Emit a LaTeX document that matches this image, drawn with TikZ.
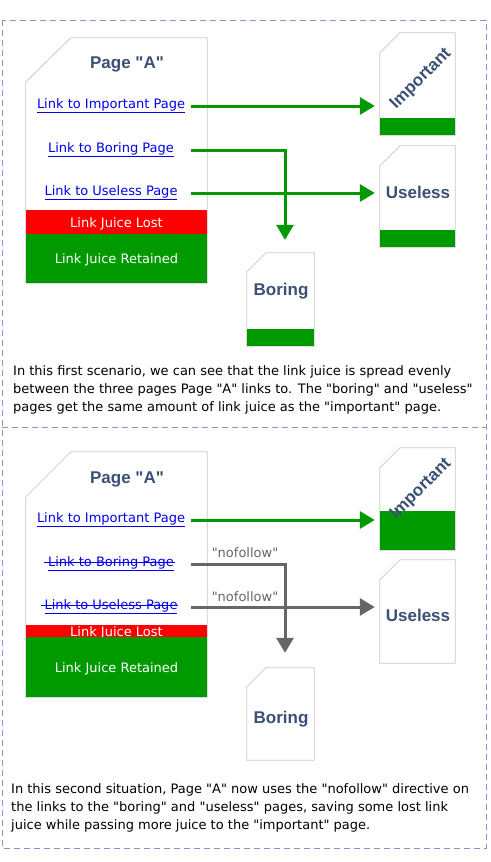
\documentclass[tikz,border=0pt]{standalone}
\usepackage{fontspec}
\newfontfamily\bodyfont{DejaVu Sans}
\newfontfamily\headfont{Liberation Sans}
\usepackage{tikz}
\usetikzlibrary{arrows.meta}
\definecolor{juicegreen}{HTML}{009900}
\definecolor{juicered}{HTML}{FF0000}
\definecolor{linkblue}{HTML}{0000EE}
\definecolor{titleblue}{HTML}{3B5077}
\definecolor{framegray}{HTML}{C8C8C8}
\definecolor{dashblue}{HTML}{8C8CD0}
\definecolor{nofollowgray}{HTML}{666666}
\newcommand{\struck}[1]{\sbox0{#1}\rlap{\underline{#1}}\kern-4pt\rule[0.3em]{\dimexpr\wd0+5pt\relax}{0.6pt}\kern-1pt}
% page outline with a cut top-left corner
\newcommand{\pageoutline}[3]{\draw[page-line] ([xshift=#2]#1.north west) -- (#1.north east) -- (#1.south east) -- (#1.south west) -- ([yshift=-#3]#1.north west) -- cycle;}
\tikzset{
    page-box/.style = {draw=none, rectangle, inner sep=0pt},
    page-line/.style = {draw=framegray, fill=white, line width=0.8pt},
    page-title/.style = {text=titleblue, font=\headfont\bfseries\fontsize{17}{20}\selectfont},
    link-text/.style = {text=linkblue, font=\bodyfont\fontsize{13}{15}\selectfont, minimum width=160pt, inner sep=0pt},
    band-text/.style = {text=white, font=\bodyfont\fontsize{13}{15}\selectfont, inner sep=0pt, minimum width=181pt, text height=11pt, text depth=0.5pt},
    story/.style = {anchor=north west, inner sep=0pt, align=left, font=\bodyfont\fontsize{13}{18}\selectfont},
    juice/.style = {draw=juicegreen, line width=3pt, -{Triangle[length=15pt,width=17pt]}},
    nofollow/.style = {draw=nofollowgray, line width=3pt, -{Triangle[length=15pt,width=17pt]}},
    nofollow-label/.style = {text=nofollowgray, font=\bodyfont\fontsize{13}{15}\selectfont, inner sep=0pt},
}

\begin{document}
\begin{tikzpicture}[x=1pt,y=-1pt]
\useasboundingbox (0,0) rectangle (490,862);
% frames
\draw[dashblue, dash pattern=on 6pt off 4pt] (2,20) rectangle (486,848);
\draw[dashblue, dash pattern=on 6pt off 4pt] (2,427) -- (486,427);

% first scenario
\node[page-box, minimum width=181pt, minimum height=245pt] (pageT) at (116.5,160.5) {};
\node[page-box, minimum width=75pt, minimum height=102pt] (impT) at (417.5,84) {};
\node[page-box, minimum width=75pt, minimum height=101pt] (useT) at (417.5,196.5) {};
\node[page-box, minimum width=67pt, minimum height=93pt] (borT) at (280.5,299.5) {};
\pageoutline{pageT}{45pt}{44pt}
\pageoutline{impT}{20pt}{20pt}
\pageoutline{useT}{20pt}{20pt}
\pageoutline{borT}{19pt}{19pt}
\fill[juicegreen] (impT.south west) rectangle ([yshift=17pt]impT.south east);
\fill[juicegreen] (useT.south west) rectangle ([yshift=17pt]useT.south east);
\fill[juicegreen] (borT.south west) rectangle ([yshift=17pt]borT.south east);

\node[page-title] (titleT) at (127,64) {Page "A"};
\node[page-title, rotate=45] (impTitleT) at (421,79) {Important};
\node[page-title] (useTitleT) at (418,192) {Useless};
\node[page-title] (borTitleT) at (281,291) {Boring};

\node[link-text] (iLinkT) at (111,106) {\underline{Link to Important Page}};
\node[link-text] (bLinkT) at (111,150) {\underline{Link to Boring Page}};
\node[link-text] (uLinkT) at (111,193) {\underline{Link to Useless Page}};

\node[band-text, fill=juicered, minimum height=24pt] (lostT) at (116.5,222) {Link Juice Lost};
\node[band-text, fill=juicegreen, minimum height=49pt] (keptT) at (116.5,258.5) {Link Juice Retained};

\draw[juice, shorten >=5pt] (iLinkT.east) -- (iLinkT.east -| impT.west);
\draw[juice, shorten >=13pt] (bLinkT.east) -| ([xshift=4.5pt]borT.north);
\draw[juice, shorten >=5pt] (uLinkT.east) -- (uLinkT.east -| useT.west);

\node[story] (storyT) at (13,365) {In this first scenario, we can see that the link juice is spread evenly\\
between the three pages Page "A" links to. The "boring" and "useless"\\
pages get the same amount of link juice as the "important" page.};

% second scenario
\node[page-box, minimum width=181pt, minimum height=245pt] (pageB) at (116.5,574.5) {};
\node[page-box, minimum width=75pt, minimum height=102pt] (impB) at (417.5,499) {};
\node[page-box, minimum width=75pt, minimum height=103pt] (useB) at (417.5,611.5) {};
\node[page-box, minimum width=67pt, minimum height=92pt] (borB) at (280.5,714) {};
\pageoutline{pageB}{45pt}{45pt}
\pageoutline{impB}{20pt}{20pt}
\pageoutline{useB}{20pt}{20pt}
\pageoutline{borB}{19pt}{19pt}
\fill[juicegreen] (impB.south west) rectangle ([yshift=39pt]impB.south east);

\node[page-title] (titleB) at (127,479) {Page "A"};
\node[page-title, rotate=45] (impTitleB) at (421,489) {Important};
\node[page-title] (useTitleB) at (418,615) {Useless};
\node[page-title] (borTitleB) at (281,719) {Boring};

\node[link-text] (iLinkB) at (111,520) {\underline{Link to Important Page}};
\node[link-text] (bLinkB) at (111,564) {\struck{Link to Boring Page}};
\node[link-text] (uLinkB) at (111,607) {\struck{Link to Useless Page}};

\node[band-text, fill=juicered, minimum height=12pt] (lostB) at (116.5,631) {Link Juice Lost};
\node[band-text, fill=juicegreen, minimum height=60pt] (keptB) at (116.5,667) {Link Juice Retained};

\draw[juice, shorten >=5pt] (iLinkB.east) -- (iLinkB.east -| impB.west);
\draw[nofollow, shorten >=15pt] (bLinkB.east) -| ([xshift=4.5pt]borB.north);
\draw[nofollow, shorten >=5pt] (uLinkB.east) -- (uLinkB.east -| useB.west);
\node[nofollow-label] (nfBoring) at (245,553) {"nofollow"};
\node[nofollow-label] (nfUseless) at (245,597) {"nofollow"};

\node[story] (storyB) at (11,783) {In this second situation, Page "A" now uses the "nofollow" directive on\\
the links to the "boring" and "useless" pages, saving some lost link\\
juice while passing more juice to the "important" page.};
\end{tikzpicture}
\end{document}
